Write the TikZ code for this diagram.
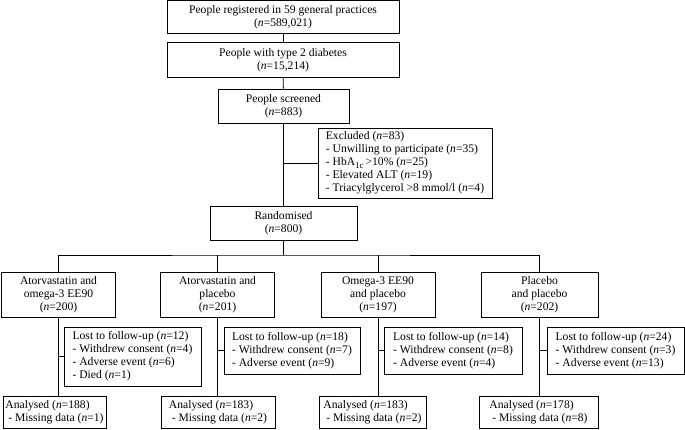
\documentclass[tikz,border=0pt]{standalone}
\usepackage{fontspec}
\setmainfont{Liberation Serif}
\begin{document}
\begin{tikzpicture}[x=1pt,y=-1pt,
  box/.style={draw, line width=0.9pt, inner sep=2pt, font=\fontsize{11.6}{13}\selectfont, align=center},
  lbox/.style={box, align=left},
  conn/.style={line width=0.9pt}]
\useasboundingbox (0,0) rectangle (685,430);
\newcommand{\nn}{\textit{n}}
\node[box, minimum width=232pt, minimum height=33pt] (b1) at (283,17) {People registered in 59 general practices\\(\nn=589,021)};
\node[box, minimum width=232pt, minimum height=35pt] (b2) at (283,60) {People with type 2 diabetes\\(\nn=15,214)};
\node[box, minimum width=131pt, minimum height=34pt] (b3) at (283.5,106) {People screened\\(\nn=883)};
\node[lbox, minimum width=174pt, minimum height=70pt] (ex) at (405,163) {Excluded (\nn=83)\\- Unwilling to participate (\nn=35)\\- HbA\raisebox{-0.45ex}{\fontsize{9}{9}\selectfont 1c}\,>10\% (\nn=25)\\- Elevated ALT (\nn=19)\\- Triacylglycerol >8 mmol/l (\nn=4)};
\node[box, minimum width=147pt, minimum height=34pt] (rand) at (283.5,223) {Randomised\\(\nn=800)};

\node[box, minimum width=114pt, minimum height=45pt] (c1) at (58.5,294.5) {Atorvastatin and\\omega-3 EE90\\(\nn=200)};
\node[box, minimum width=114pt, minimum height=45pt] (c2) at (217.5,294.5) {Atorvastatin and\\placebo\\(\nn=201)};
\node[box, minimum width=114pt, minimum height=45pt] (c3) at (378,294.5) {Omega-3 EE90\\and placebo\\(\nn=197)};
\node[box, minimum width=117pt, minimum height=45pt] (c4) at (539.5,294.5) {Placebo\\and placebo\\(\nn=202)};

\node[lbox, minimum width=137pt, minimum height=59pt] (l1) at (132.5,356.5) {Lost to follow-up (\nn=12)\\- Withdrew consent (\nn=4)\\- Adverse event (\nn=6)\\- Died (\nn=1)};
\node[lbox, minimum width=136pt, minimum height=47pt] (l2) at (292,350.5) {Lost to follow-up (\nn=18)\\- Withdrew consent (\nn=7)\\- Adverse event (\nn=9)};
\node[lbox, minimum width=138pt, minimum height=47pt] (l3) at (453,350.5) {Lost to follow-up (\nn=14)\\- Withdrew consent (\nn=8)\\- Adverse event (\nn=4)};
\node[lbox, minimum width=137pt, minimum height=47pt] (l4) at (615.5,350.5) {Lost to follow-up (\nn=24)\\- Withdrew consent (\nn=3)\\- Adverse event (\nn=13)};

\node[lbox, minimum width=103pt, minimum height=32pt] (a1) at (54.5,412) {Analysed (\nn=188)\\\ - Missing data (\nn=1)};
\node[lbox, minimum width=114pt, minimum height=32pt] (a2) at (218,412) {Analysed (\nn=183)\\\ - Missing data (\nn=2)};
\node[lbox, minimum width=107pt, minimum height=32pt] (a3) at (372.5,412) {Analysed (\nn=183)\\\ - Missing data (\nn=2)};
\node[lbox, minimum width=119pt, minimum height=32pt] (a4) at (538.5,412) {Analysed (\nn=178)\\\ - Missing data (\nn=8)};

\coordinate (hub) at (283.5,255);
\draw[conn] (b1) -- (b2);
\draw[conn] (b2) -- (b3);
\draw[conn] (b3) -- (rand);
\draw[conn] (b3.south |- ex.west) -- (ex.west);
\draw[conn] (rand) -- (hub);
\draw[conn] (c1.north) |- (hub) -| (c4.north);
\draw[conn] (c2.north) -- (c2.north |- hub);
\draw[conn] (c3.north) -- (c3.north |- hub);
\foreach \i in {1,2,3,4} {
  \draw[conn] (c\i.south) -- (c\i.south |- a\i.north);
  \draw[conn] (c\i.south |- l\i.west) -- (l\i.west);
}
\end{tikzpicture}
\end{document}
